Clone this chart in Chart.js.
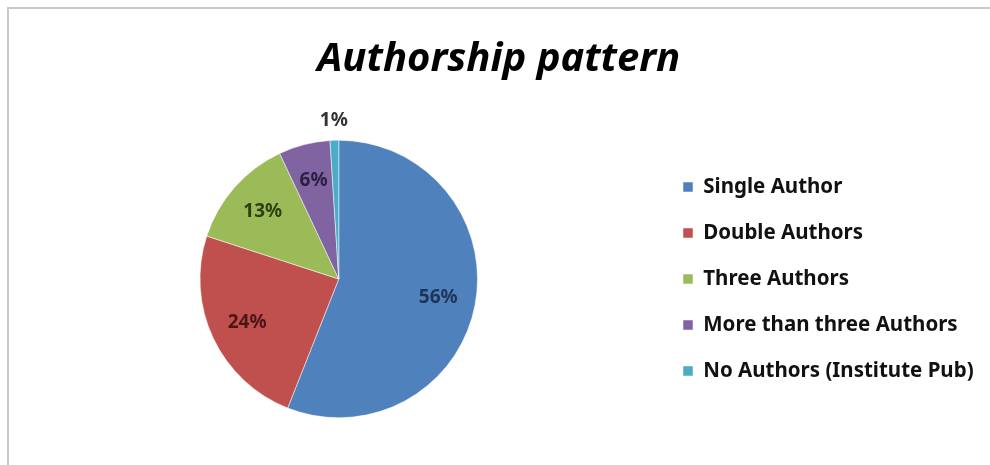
<!DOCTYPE html>
<html>
<head>
<meta charset="utf-8">
<script src="https://cdn.jsdelivr.net/npm/chart.js@4.4.1/dist/chart.umd.min.js"></script>
<style>
  html, body { margin: 0; padding: 0; background: #fff; }
  canvas { display: block; }
</style>
</head>
<body>
<canvas id="myChart" width="990" height="465"></canvas>
<script>
// authorship categories and their share (%)
const categories = ['Single Author', 'Double Authors', 'Three Authors', 'More than three Authors', 'No Authors (Institute Pub)'];
const shares = [56, 24, 13, 6, 1];

const sliceColors = ['#4F81BD', '#C0504D', '#9BBB59', '#8064A2', '#4BACC6'];
const labelColors = ['#1F3558', '#4A1615', '#2E3F12', '#2B1F3D', '#333333'];

// grey frame on the top and left edge, like the pasted excel picture
const frame = {
    id: 'frame',
    beforeDraw(chart) {
        const ctx = chart.ctx;
        ctx.save();
        ctx.fillStyle = '#fff';
        ctx.fillRect(0, 0, chart.width, chart.height);
        ctx.strokeStyle = '#c9c9c9';
        ctx.lineWidth = 2;
        ctx.beginPath();
        ctx.moveTo(8, chart.height);
        ctx.lineTo(8, 8);
        ctx.lineTo(chart.width, 8);
        ctx.stroke();
        ctx.restore();
    }
};

// percentage labels inside the slices (tiny ones go outside)
const sliceLabels = {
    id: 'sliceLabels',
    afterDatasetsDraw(chart) {
        const ctx = chart.ctx;
        const meta = chart.getDatasetMeta(0);
        ctx.save();
        ctx.font = 'bold 19px "Noto Sans"';
        ctx.textAlign = 'center';
        ctx.textBaseline = 'middle';
        meta.data.forEach((arc, i) => {
            const p = arc.getProps(['x', 'y', 'startAngle', 'endAngle', 'outerRadius']);
            const mid = (p.startAngle + p.endAngle) / 2;
            const r = shares[i] < 3 ? p.outerRadius + 20 : p.outerRadius * 0.73;
            ctx.fillStyle = labelColors[i];
            ctx.fillText(shares[i] + '%', p.x + Math.cos(mid) * r, p.y + Math.sin(mid) * r);
        });
        ctx.restore();
    }
};

var ctx = document.getElementById('myChart').getContext('2d');
var myChart = new Chart(ctx, {
    type: 'pie',
    data: {
        labels: categories,
        datasets: [{
            data: shares,
            backgroundColor: sliceColors,
            borderColor: '#fff',
            borderWidth: 0.5
        }]
    },
    options: {
        responsive: false,
        animation: false,
        devicePixelRatio: 1,
        layout: {
            padding: { left: 20, right: 12.5, top: 0, bottom: 47 }
        },
        plugins: {
            title: {
                display: true,
                text: 'Authorship pattern',
                color: '#000',
                font: { family: 'Noto Sans', size: 40, weight: 'bold', style: 'italic' },
                padding: { top: 36, bottom: 56 }
            },
            legend: {
                position: 'right',
                fullSize: false,
                maxWidth: 320,
                labels: {
                    color: '#111',
                    boxWidth: 10,
                    boxHeight: 10,
                    padding: 25.5,
                    font: { family: 'Noto Sans', size: 20.5, weight: 'bold' }
                }
            },
            tooltip: { enabled: false }
        }
    },
    plugins: [frame, sliceLabels]
});
</script>
</body>
</html>
